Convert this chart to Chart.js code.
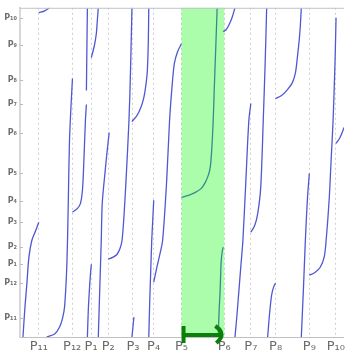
<!DOCTYPE html>
<html>
<head>
<meta charset="utf-8">
<script src="https://cdn.jsdelivr.net/npm/chart.js@4.4.1/dist/chart.umd.min.js"></script>
<style>
  html, body { margin: 0; padding: 0; background: #fff; }
  #wrap { width: 347px; height: 355px; }
</style>
</head>
<body>
<div id="wrap"><canvas id="chart" width="347" height="355"></canvas></div>
<script>
// Tick positions (degrees) and labels, same order on both axes
const tickLabels = ['P₁₁', 'P₁₂', 'P₁', 'P₂', 'P₃', 'P₄', 'P₅', 'P₆', 'P₇', 'P₈', 'P₉', 'P₁₀'];
const xTicks = [21, 58, 79, 98, 125.5, 148.5, 179.5, 227, 256.5, 284, 321.5, 351];
const yTicks = [20.7, 58.9, 79.6, 98.2, 125.5, 148.4, 178.9, 223.6, 255.3, 281.5, 319.6, 349.1];

// highlighted interval P5 -> P6
const bandFrom = 179.5;
const bandTo = 227;

// curve branches (x, y in degrees)
const aX = [20.9, 27.5, 33.0];
const aY = [354.5, 356.7, 360];
const bX = [3.3, 5.5, 7.7, 9.9, 13.2, 17.6, 20.9];
const bY = [0, 32.7, 58.9, 87.3, 105.8, 116.7, 125.5];
const cX = [29.7, 38.5, 44.0, 47.3, 49.5, 51.7, 52.8, 53.9, 55.0, 56.7, 58.3];
const cY = [0, 3.3, 10.9, 20.7, 32.7, 69.8, 105.8, 160.4, 214.9, 253.1, 282.6];
const dX = [73.8, 74.3, 74.9];
const dY = [269.5, 313.1, 360];
const eX = [58.3, 63.9, 67.2, 69.4, 71.0, 72.7, 73.8];
const eY = [136.4, 140.7, 146.2, 160.4, 193.1, 236.7, 254.2];
const fX = [74.9, 75.9, 77.1, 78.2, 79.3];
const fY = [0, 29.5, 51.3, 67.6, 79.6];
const gX = [87.0, 88.6, 90.3, 91.4, 94.7, 96.9, 99.1];
const gY = [0, 51.3, 105.8, 146.2, 182.2, 204.0, 223.6];
const hX = [79.3, 82.6, 84.8, 85.9, 87.0];
const hY = [305.5, 318.5, 331.6, 345.8, 360];
const iX = [98.0, 103.5, 107.9, 111.2, 113.4, 115.6, 117.8, 121.1, 122.8, 124.4];
const iY = [85.1, 87.3, 90.5, 97.1, 105.8, 133.1, 171.3, 236.7, 291.2, 360];
const jX = [124.4, 129.9, 134.3, 137.6, 139.8, 141.5, 142.6, 143.1];
const jY = [235.6, 242.1, 250.9, 261.7, 274.9, 291.2, 324.0, 360];
const kX = [143.1, 144.2, 145.3, 146.4, 147.5, 148.6];
const kY = [0, 40.4, 73.1, 105.8, 127.6, 149.5];
const lX = [148.6, 151.9, 155.2, 158.5, 163.0, 166.2, 169.5, 171.7, 175.1, 179.4];
const lY = [60.0, 75.3, 89.5, 105.8, 171.3, 236.7, 280.4, 300.0, 312.0, 320.7];
const mX = [179.4, 187.2, 194.9, 201.5, 205.9, 209.2, 211.4, 213.0, 214.7, 215.8, 217.4, 219.1];
const mY = [152.7, 154.9, 158.2, 162.5, 169.1, 176.7, 185.5, 204.0, 236.7, 269.5, 313.1, 360];
const nX = [225.7, 229.0, 232.3, 235.6, 238.9];
const nY = [333.8, 336.0, 341.5, 349.1, 360];
const oX = [220.2, 221.3, 222.4, 223.5, 224.6, 225.7];
const oY = [0, 29.5, 51.3, 81.8, 92.7, 98.2];
const pX = [238.9, 241.1, 243.3, 245.5, 247.7, 251.0, 254.3, 256.5];
const pY = [0, 24.0, 51.3, 78.5, 105.8, 171.3, 236.7, 255.3];
const qX = [256.5, 260.9, 264.2, 267.5, 270.3, 272.5, 274.1];
const qY = [114.5, 122.2, 135.3, 163.6, 236.7, 302.2, 360];
const rX = [284.0, 290.6, 297.2, 302.7, 306.1, 308.2, 310.4, 311.5, 312.6];
const rY = [260.7, 264.0, 270.5, 278.2, 289.1, 305.5, 326.2, 340.4, 360];
const sX = [312.6, 314.9, 317.1, 319.3, 321.5];
const sY = [0, 51.3, 105.8, 149.5, 178.9];
const tX = [351.2, 355.6, 360.0, 364.4];
const tY = [211.6, 218.2, 229.1, 247.6];
const uX = [321.5, 328.1, 333.6, 338.0, 340.2, 343.5, 345.7, 347.9, 350.1, 351.2];
const uY = [67.6, 70.9, 76.3, 87.3, 105.8, 149.5, 193.1, 236.7, 302.2, 349.1];
const vX = [275.2, 277.4, 279.6, 281.8, 284.0];
const vY = [0, 26.2, 45.8, 54.5, 58.9];
const wX = [124.4, 126.6];
const wY = [0, 21.8];

const curves = [
  [aX, aY], [bX, bY], [cX, cY], [dX, dY], [eX, eY], [fX, fY], [gX, gY], [hX, hY],
  [iX, iY], [jX, jY], [kX, kY], [lX, lY], [mX, mY], [nX, nY], [oX, oY], [pX, pY],
  [qX, qY], [rX, rY], [sX, sY], [tX, tY], [uX, uY], [vX, vY], [wX, wY]
];

const lineColor = '#5057d2';

// green band over the P5-P6 interval, frame line, small y ticks, and the arrow
const overlay = {
  id: 'overlay',
  afterDatasetsDraw(chart) {
    const { ctx, chartArea: a, scales: { x, y } } = chart;
    const x0 = x.getPixelForValue(bandFrom);
    const x1 = x.getPixelForValue(bandTo);
    ctx.save();
    ctx.fillStyle = 'rgba(0, 245, 0, 0.33)';
    ctx.fillRect(x0, a.top, x1 - x0, a.bottom - a.top);
    ctx.strokeStyle = '#c4c4c4';
    ctx.lineWidth = 1;
    ctx.beginPath();
    ctx.moveTo(a.left, a.top + 0.5);
    ctx.lineTo(a.right, a.top + 0.5);
    ctx.stroke();
    // short tick marks inside the left axis
    ctx.strokeStyle = '#bbbbbb';
    yTicks.forEach(v => {
      const py = Math.round(y.getPixelForValue(v)) + 0.5;
      ctx.beginPath();
      ctx.moveTo(a.left, py);
      ctx.lineTo(a.left + 3, py);
      ctx.stroke();
    });
    ctx.restore();
  },
  afterDraw(chart) {
    const { ctx, chartArea: a, scales: { x } } = chart;
    const x0 = x.getPixelForValue(bandFrom);
    const x1 = x.getPixelForValue(bandTo);
    const y0 = a.bottom - 2;
    ctx.save();
    ctx.strokeStyle = '#0a800a';
    ctx.lineWidth = 4;
    ctx.beginPath();
    ctx.moveTo(x0 + 2, y0 - 9);
    ctx.lineTo(x0 + 2, y0 + 8);
    ctx.stroke();
    ctx.beginPath();
    ctx.moveTo(x0 + 2, y0);
    ctx.lineTo(x1 - 4, y0);
    ctx.stroke();
    ctx.beginPath();
    ctx.moveTo(x1 - 9, y0 - 9);
    ctx.quadraticCurveTo(x1 + 3, y0 - 1, x1 - 8, y0 + 8);
    ctx.stroke();
    ctx.restore();
  }
};

new Chart(document.getElementById('chart'), {
  type: 'scatter',
  data: {
    datasets: curves.map(([xs, ys]) => ({
      data: xs.map((v, i) => ({ x: v, y: ys[i] })),
      showLine: true,
      borderColor: lineColor,
      borderWidth: 1.3,
      pointRadius: 0,
      tension: 0.3,
      clip: 0
    }))
  },
  options: {
    responsive: false,
    animation: false,
    devicePixelRatio: 1,
    layout: { padding: { top: 7, left: 0, right: 0, bottom: 0 }, autoPadding: false },
    plugins: { legend: { display: false }, tooltip: { enabled: false } },
    scales: {
      x: {
        type: 'linear', min: 0, max: 360,
        afterBuildTicks: s => { s.ticks = xTicks.map(v => ({ value: v })); },
        afterFit: s => { s.height = 18; },
        ticks: {
          autoSkip: false, maxRotation: 0, padding: 2,
          color: '#6a6a6a',
          font: { family: 'DejaVu Sans', size: 13 },
          callback: (v, i) => tickLabels[i]
        },
        grid: { color: '#d0d0d0', lineWidth: 1, drawTicks: false },
        border: { color: '#c0c0c0', width: 1, dash: [2, 3] }
      },
      y: {
        type: 'linear', min: 0, max: 360,
        afterBuildTicks: s => { s.ticks = yTicks.map(v => ({ value: v })); },
        afterFit: s => { s.width = 20; },
        ticks: {
          autoSkip: false, padding: 3,
          color: '#707070',
          font: { family: 'DejaVu Sans', size: 8, weight: 'bold' },
          callback: (v, i) => tickLabels[i]
        },
        grid: { display: false, drawTicks: false },
        border: { color: '#d8d8d8', width: 2 }
      }
    }
  },
  plugins: [overlay]
});
</script>
</body>
</html>
